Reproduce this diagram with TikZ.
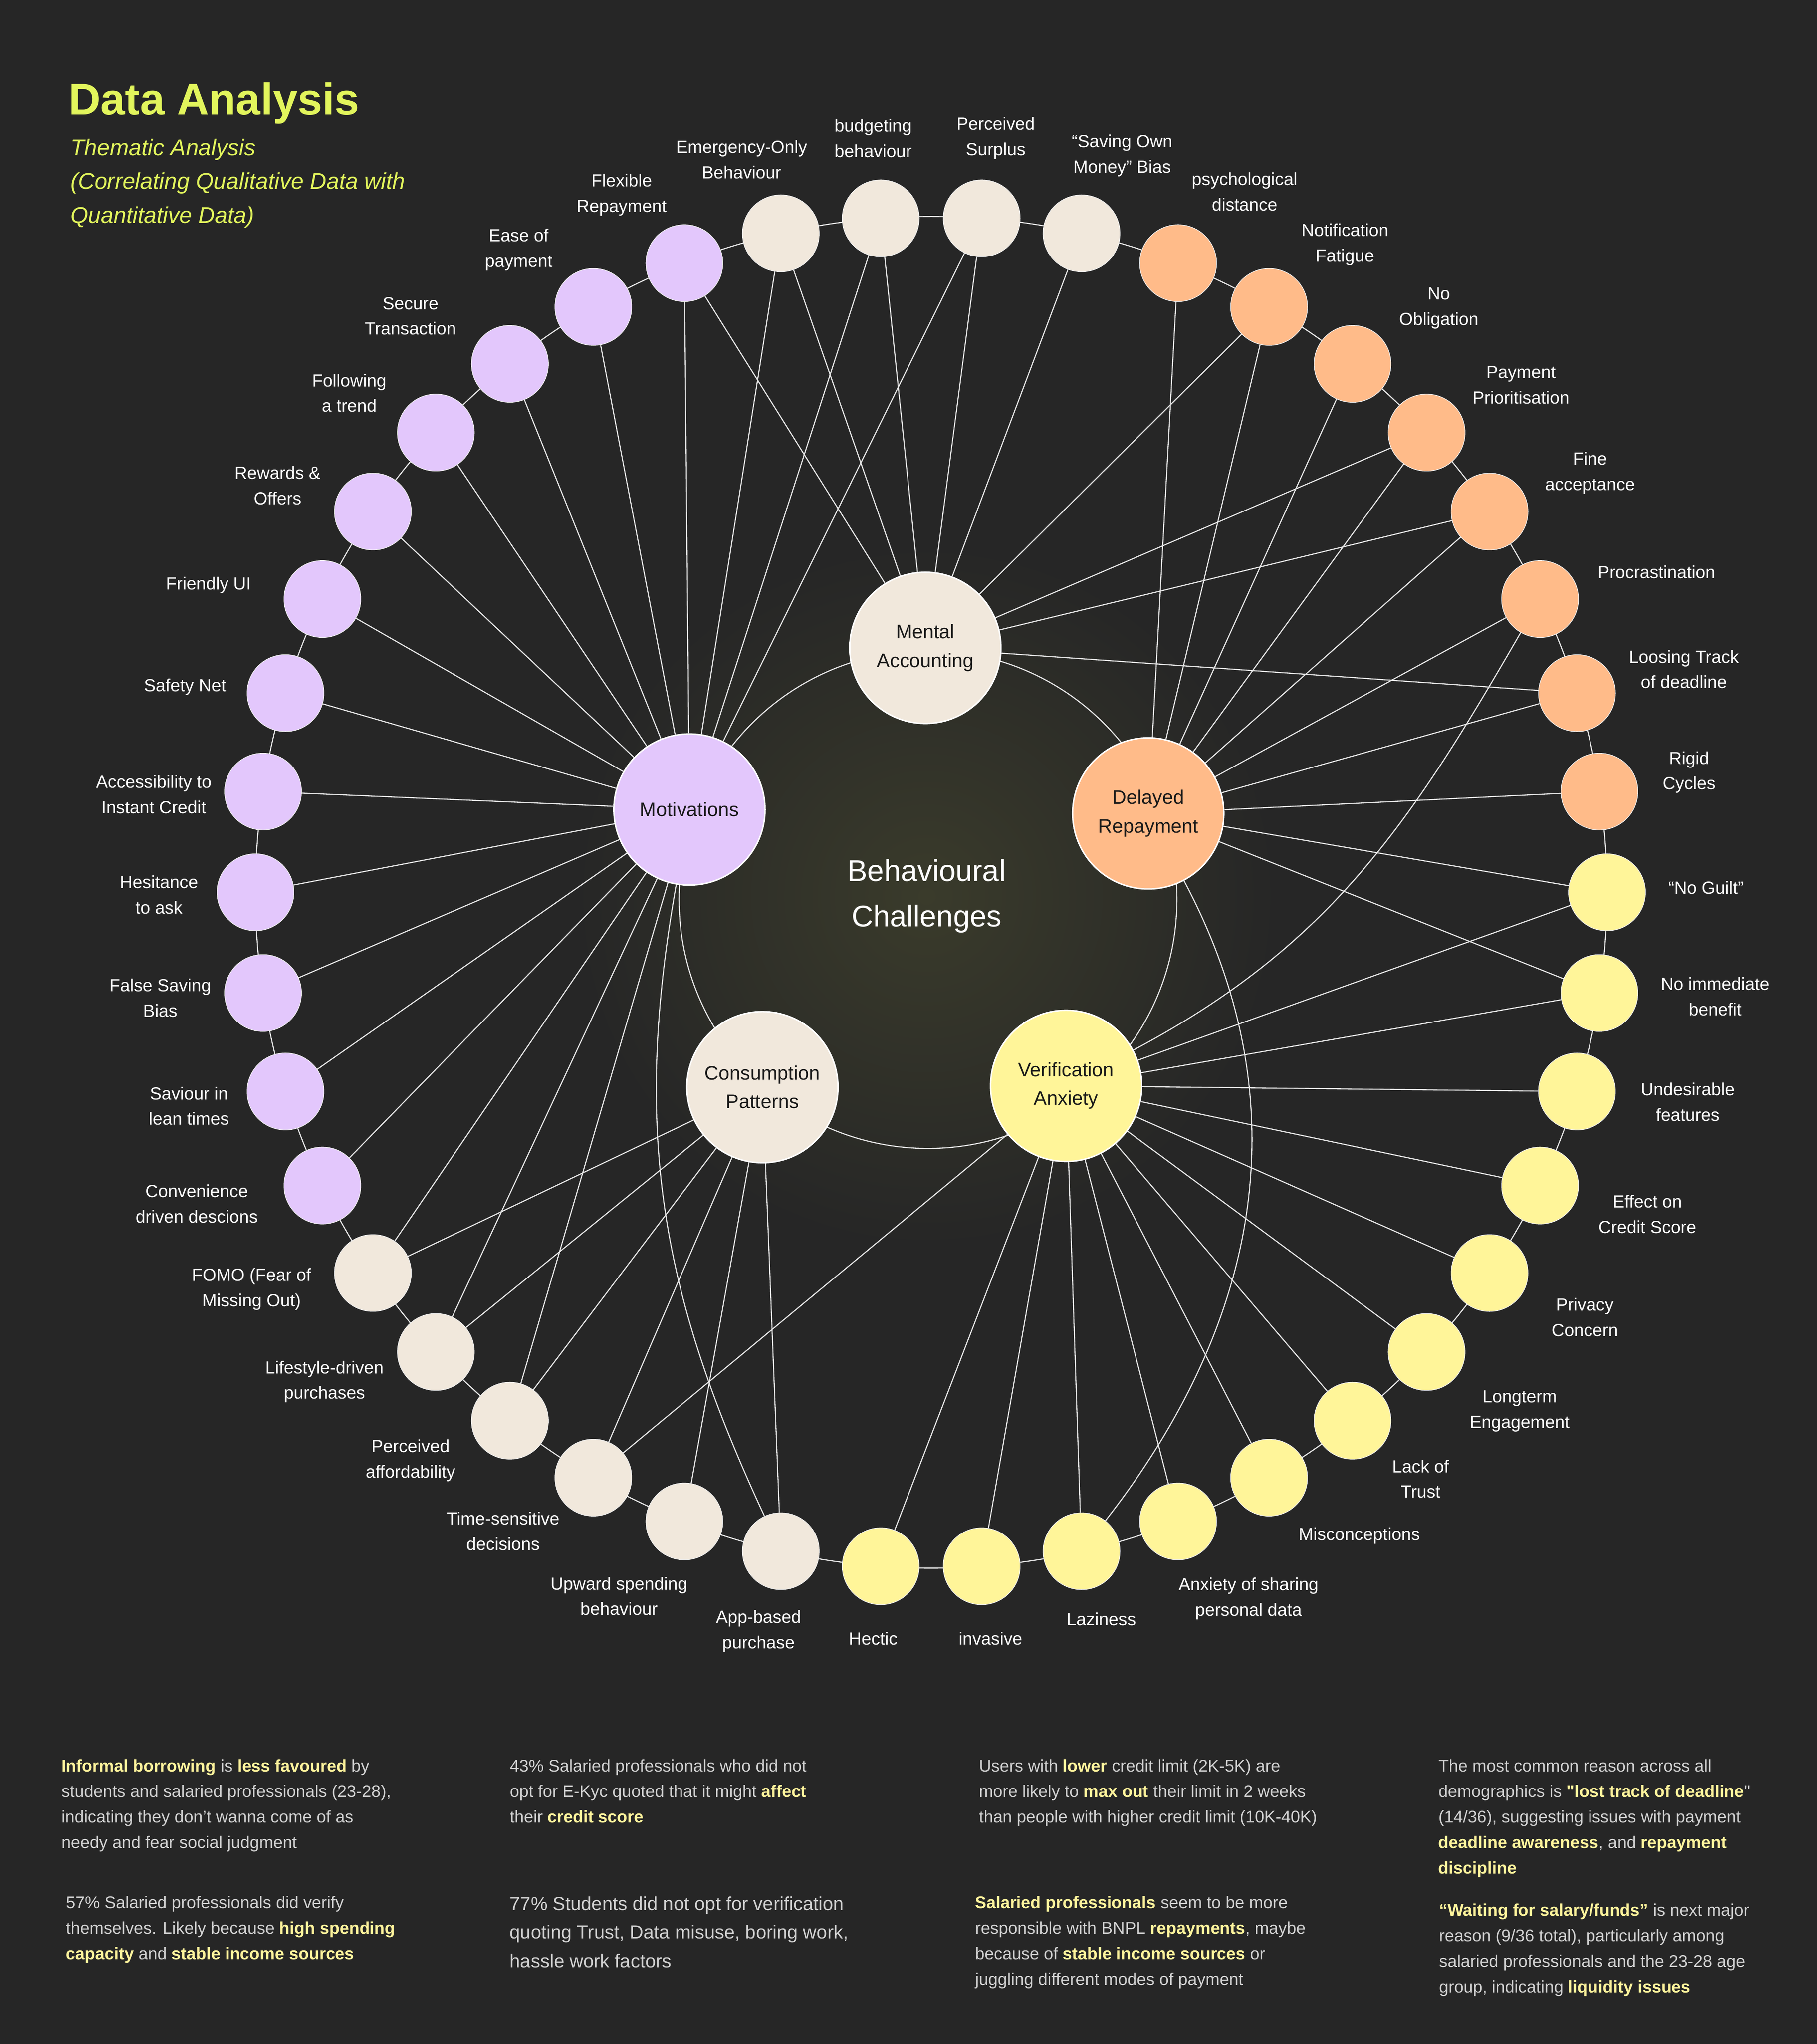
\documentclass[tikz,border=0pt]{standalone}
\usepackage{fontspec}
\setmainfont{Liberation Sans}[Ligatures=TeXOff]
\definecolor{bgdark}{HTML}{262626}
\definecolor{glowcol}{HTML}{3A3B2B}
\definecolor{motcol}{HTML}{E3C7FC}
\definecolor{sandcol}{HTML}{F1E8DC}
\definecolor{delcol}{HTML}{FFBB89}
\definecolor{vercol}{HTML}{FFF599}
\definecolor{wirecol}{HTML}{E4E4E4}
\definecolor{titlecol}{HTML}{E2F55C}
\definecolor{notecol}{HTML}{D2D2D2}
\definecolor{markcol}{HTML}{FFF59D}
\newcommand{\hilite}[1]{{\color{markcol}\bfseries #1}}

\begin{document}
\begin{tikzpicture}[x=1pt, y=1pt,
		leaf/.style={circle, draw=white!85!gray, line width=0.5pt, minimum size=59pt, inner sep=0pt},
		hub/.style={circle, draw=white, line width=1.1pt, minimum size=116pt, inner sep=0pt, align=center, text=black!90, font=\fontsize{15}{22}\selectfont},
		leaflabel/.style={align=center, text=white, inner sep=0pt, font=\fontsize{13.5}{19.5}\selectfont},
		wire/.style={draw=wirecol, line width=0.85pt},
		note/.style={anchor=north west, align=left, inner sep=0pt, text=notecol, font=\fontsize{13}{19.6}\selectfont}]
	\useasboundingbox (-714.5,684.5) rectangle (679.5,-883.5);
	\fill[bgdark] (-714.5,684.5) rectangle (679.5,-883.5);
	\shade[inner color=glowcol, outer color=bgdark] (-3.5,-3) circle (270);
	\draw[wire] (0,0) circle (518.5);
	\draw[wire] (-2.5,-5.5) circle (191);

	\foreach \k/\fillc/\txt/\lx/\ly in {
			0/sandcol/{budgeting\\behaviour}/-44.5/578.5,
			1/sandcol/{Emergency-Only\\Behaviour}/-145.5/562,
			2/motcol/{Flexible\\Repayment}/-237.5/535,
			3/motcol/{Ease of\\payment}/-316.5/493,
			4/motcol/{Secure\\Transaction}/-399.5/442,
			5/motcol/{Following\\a trend}/-446.5/383,
			6/motcol/{Rewards \&\\Offers}/-501.5/312,
			7/motcol/{Friendly UI}/-554.5/235.5,
			8/motcol/{Safety Net}/-572.5/157.5,
			9/motcol/{Accessibility to\\Instant Credit}/-596.5/75,
			10/motcol/{Hesitance\\to ask}/-592.5/-2,
			11/motcol/{False Saving\\Bias}/-591.5/-81,
			12/motcol/{Saviour in\\lean times}/-569.5/-164,
			13/motcol/{Convenience\\driven descions}/-563.5/-239,
			14/sandcol/{FOMO (Fear of\\Missing Out)}/-521.5/-304.5,
			15/sandcol/{Lifestyle-driven\\purchases}/-465.5/-375.5,
			16/sandcol/{Perceived\\affordability}/-399.5/-436,
			17/sandcol/{Time-sensitive\\decisions}/-328.5/-490,
			18/sandcol/{Upward spending\\behaviour}/-239.5/-540,
			19/sandcol/{App-based\\purchase}/-132.5/-567,
			20/vercol/{Hectic}/-44.5/-572.5,
			21/vercol/{invasive}/45.5/-572.5,
			22/vercol/{Laziness}/130.5/-557.5,
			23/vercol/{Anxiety of sharing\\personal data}/243.5/-542,
			24/vercol/{Misconceptions}/328.5/-493.5,
			25/vercol/{Lack of\\Trust}/375.5/-450,
			26/vercol/{Longterm\\Engagement}/451.5/-398,
			27/vercol/{Privacy\\Concern}/501.5/-326,
			28/vercol/{Effect on\\Credit Score}/549.5/-247,
			29/vercol/{Undesirable\\features}/580.5/-161,
			30/vercol/{No immediate\\benefit}/601.5/-80,
			31/vercol/{“No Guilt”}/594.5/3.5,
			32/delcol/{Rigid\\Cycles}/581.5/92,
			33/delcol/{Loosing Track\\of deadline}/577.5/171,
			34/delcol/{Procrastination}/556.5/245.5,
			35/delcol/{Fine\\acceptance}/505.5/321.5,
			36/delcol/{Payment\\Prioritisation}/452.5/389,
			37/delcol/{No\\Obligation}/389.5/448,
			38/delcol/{Notification\\Fatigue}/317.5/497,
			39/delcol/{psychological\\distance}/240.5/537.5,
			40/sandcol/{“Saving Own\\Money” Bias}/146.5/565,
			41/sandcol/{Perceived\\Surplus}/49.5/578.5}
	{
		\node[leaf, fill=\fillc] (o\k) at ({94.2857+8.5714*\k}:518.5) {};
		\node[leaflabel] (o\k-label) at (\lx,\ly) {\txt};
	}

	\node[hub, fill=sandcol] (men) at (-4.5,187.5) {Mental\\Accounting};
	\node[hub, fill=motcol] (mot) at (-185.5,63.5) {Motivations};
	\node[hub, fill=delcol] (del) at (166.5,60.5) {Delayed\\Repayment};
	\node[hub, fill=sandcol] (con) at (-129.5,-149.5) {Consumption\\Patterns};
	\node[hub, fill=vercol] (ver) at (103.5,-148.5) {Verification\\Anxiety};
	\node[align=center, text=white, font=\fontsize{23}{35}\selectfont] (core) at (-3.5,-3) {Behavioural\\Challenges};

	\foreach \k in {0,...,16,41} \draw[wire] (mot) -- (o\k);
	\foreach \k in {0,1,2,33,35,36,38,40,41} \draw[wire] (men) -- (o\k);
	\foreach \k in {30,...,39} \draw[wire] (del) -- (o\k);
	\foreach \k in {17,20,21,...,31} \draw[wire] (ver) -- (o\k);
	\foreach \k in {14,...,19} \draw[wire] (con) -- (o\k);
	\draw[wire] (mot) to[out=-100, in=115] (o19);
	\draw[wire] (del) to[out=-62, in=52] (o22);
	\draw[wire] (o34) to[out=-120, in=28] (ver);

	\node[anchor=base west, inner sep=0pt, text=titlecol, font=\fontsize{34}{40}\selectfont\bfseries] (title) at (-662,596.5) {Data Analysis};
	\node[anchor=north west, align=left, inner sep=0pt, text=titlecol, font=\fontsize{17.5}{26}\selectfont\itshape] (subtitle) at (-660.5,578.3) {Thematic Analysis\\(Correlating Qualitative Data with\\Quantitative Data)};

	\node[note] (finding1) at (-667.5,-665) {\hilite{Informal borrowing} is \hilite{less favoured} by\\students and salaried professionals (23-28),\\indicating they don’t wanna come of as\\needy and fear social judgment};
	\node[note] (finding2) at (-664,-770) {57\% Salaried professionals did verify\\themselves. Likely because \hilite{high spending}\\\hilite{capacity} and \hilite{stable income sources}};
	\node[note] (finding3) at (-323.5,-665) {43\% Salaried professionals who did not\\opt for E-Kyc quoted that it might \hilite{affect}\\their \hilite{credit score}};
	\node[note, font=\fontsize{14.5}{22}\selectfont] (finding4) at (-323.5,-770.2) {77\% Students did not opt for verification\\quoting Trust, Data misuse, boring work,\\hassle work factors};
	\node[note] (finding5) at (36.5,-665) {Users with \hilite{lower} credit limit (2K-5K) are\\more likely to \hilite{max out} their limit in 2 weeks\\than people with higher credit limit (10K-40K)};
	\node[note] (finding6) at (33.5,-770) {\hilite{Salaried professionals} seem to be more\\responsible with BNPL \hilite{repayments}, maybe\\because of \hilite{stable income sources} or\\juggling different modes of payment};
	\node[note] (finding7) at (389,-665) {The most common reason across all\\demographics is \hilite{"lost track of deadline}"\\(14/36), suggesting issues with payment\\\hilite{deadline awareness}, and \hilite{repayment}\\\hilite{discipline}};
	\node[note] (finding8) at (389.5,-775.8) {\hilite{“Waiting for salary/funds”} is next major\\reason (9/36 total), particularly among\\salaried professionals and the 23-28 age\\group, indicating \hilite{liquidity issues}};
\end{tikzpicture}
\end{document}
